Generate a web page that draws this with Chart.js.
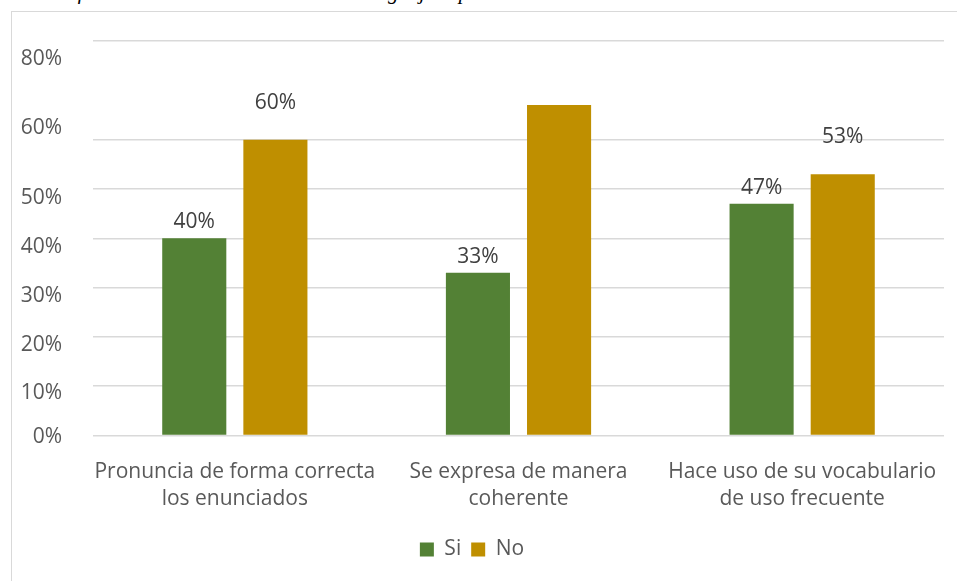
<!DOCTYPE html>
<html>
<head>
<meta charset="utf-8">
<script src="https://cdn.jsdelivr.net/npm/chart.js@4/dist/chart.umd.min.js"></script>
<style>
  html, body { margin: 0; padding: 0; background: #fff; overflow: hidden; }
  #caption {
    position: absolute; left: 44px; top: -20px; margin: 0;
    font: italic 21px "Liberation Serif", serif; color: #000; white-space: nowrap;
  }
  #frame {
    position: absolute; left: 11px; top: 11px; width: 980px; height: 620px;
    border-left: 1.5px solid #d9d9d9; border-top: 1.5px solid #d9d9d9;
    box-sizing: border-box;
  }
  #wrap { position: absolute; left: 0; top: 0; width: 957px; height: 581px; }
</style>
</head>
<body>
<p id="caption">Gráfico 6. Nivel de vocabulario en el lenguaje expresivo</p>
<div id="frame"></div>
<div id="wrap"><canvas id="chart"></canvas></div>
<script>
// ── Si / No por indicador ─────────────────────────────

const categories = [
  ["Pronuncia de forma correcta", "los enunciados"],
  ["Se expresa de manera", "coherente"],
  ["Hace uso de su vocabulario", "de uso frecuente"],
];
const siValues = [40, 33, 47];
const noValues = [60, 67, 53];

// axis labels sit a little off their grid lines
const yLabelText = ["0%", "10%", "20%", "30%", "40%", "50%", "60%", "80%"];
const yLabelAt = [-0.4, 8.7, 18.3, 28.2, 38.2, 48.1, 62.3, 76.3];

const FONT = '"Open Sans", "Noto Sans", sans-serif';
const GRID = "#d9d9d9";
const TEXT = "#595959";

// value labels above the bars
const barValueLabels = {
  id: "barValueLabels",
  afterDatasetsDraw(chart) {
    const ctx = chart.ctx;
    ctx.save();
    ctx.font = `21px ${FONT}`;
    ctx.fillStyle = "#404040";
    ctx.textAlign = "center";
    ctx.textBaseline = "middle";
    chart.data.datasets.forEach((ds, di) => {
      const meta = chart.getDatasetMeta(di);
      meta.data.forEach((bar, i) => {
        if (ds.labelHidden && ds.labelHidden[i]) return;
        const lift = ds.labelLift ? ds.labelLift[i] : 0;
        ctx.fillText(ds.data[i] + "%", bar.x, bar.y - 16 - lift);
      });
    });
    ctx.restore();
  },
};

new Chart(document.getElementById("chart"), {
  type: "bar",
  data: {
    labels: categories,
    datasets: [
      {
        label: "Si",
        data: siValues,
        backgroundColor: "#538135",
        categoryPercentage: 0.572,
        barPercentage: 0.79,
      },
      {
        label: "No",
        data: noValues,
        backgroundColor: "#BF8F00",
        categoryPercentage: 0.572,
        barPercentage: 0.79,
        labelHidden: [false, true, false],
        labelLift: [21, 0, 21],
      },
    ],
  },
  options: {
    responsive: true,
    maintainAspectRatio: false,
    animation: false,
    layout: { padding: { top: 41, right: 13, left: 0, bottom: 11 } },
    plugins: {
      legend: {
        position: "bottom",
        labels: {
          color: TEXT,
          font: { family: FONT, size: 21 },
          boxWidth: 14,
          boxHeight: 14,
          padding: 10,
        },
      },
      tooltip: { enabled: false },
    },
    scales: {
      x: {
        grid: { display: false },
        border: { display: false },
        ticks: {
          color: TEXT,
          font: { family: FONT, size: 21, lineHeight: 1.29 },
          padding: 15,
          maxRotation: 0,
          autoSkip: false,
        },
        afterFit: (scale) => { scale.height = 93.5; },
      },
      y: {
        min: 0,
        max: 80,
        position: "left",
        border: { display: false },
        grid: {
          drawTicks: false,
          lineWidth: 1.5,
          color: (c) => (c.tick && c.tick.value === 70 ? "rgba(0,0,0,0)" : GRID),
        },
        ticks: { display: false, stepSize: 10 },
        afterFit: (scale) => { scale.width = 0; },
      },
      yLab: {
        min: 0,
        max: 80,
        position: "left",
        border: { display: false },
        grid: { display: false },
        ticks: {
          color: TEXT,
          font: { family: FONT, size: 21 },
          padding: 23,
          callback: (v, i) => yLabelText[i],
        },
        afterBuildTicks: (scale) => {
          scale.ticks = yLabelAt.map((v) => ({ value: v }));
        },
        afterFit: (scale) => { scale.width = 93; },
      },
    },
  },
  plugins: [barValueLabels],
});
</script>
</body>
</html>
